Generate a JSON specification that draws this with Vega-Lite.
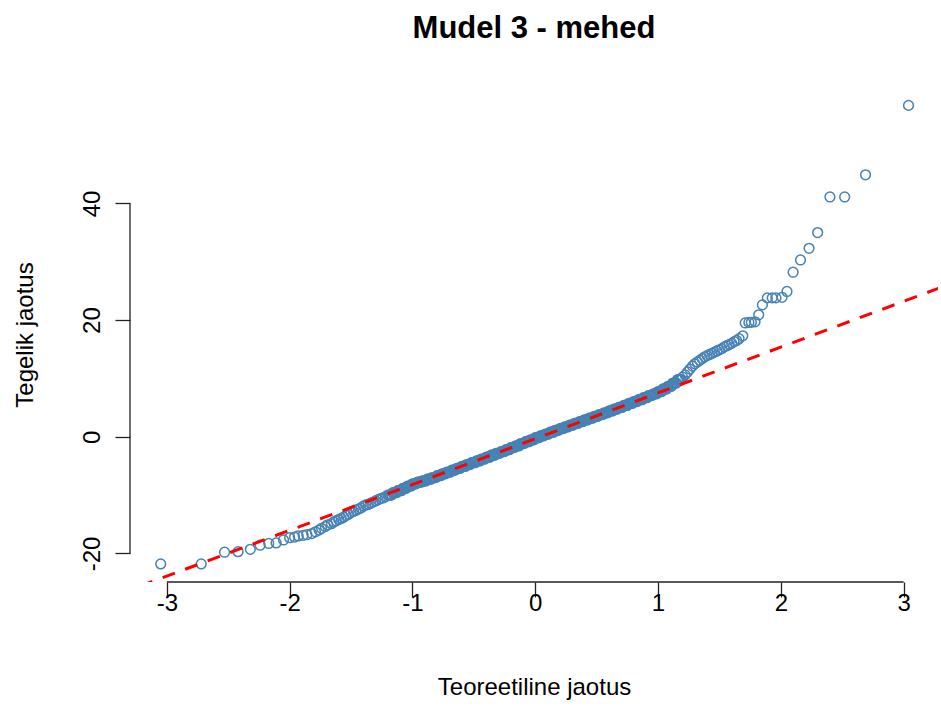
{
"$schema": "https://vega.github.io/schema/vega-lite/v6.json",
"width": 808, "height": 495,
"autosize": {"type": "none"},
"padding": {"left": 130, "top": 87, "right": 3, "bottom": 131},
"background": "white",
"title": {"text": "Mudel 3 - mehed", "font": "Liberation Sans", "fontSize": 31, "fontWeight": "bold", "color": "#000000", "anchor": "middle", "offset": 42},
"config": {"view": {"stroke": null}, "axis": {"grid": false, "domain": false, "tickColor": "#222222", "tickWidth": 1.3, "tickSize": 15, "labelFont": "Liberation Sans", "labelFontSize": 24, "labelColor": "#000000", "titleFont": "Liberation Sans", "titleFontSize": 24, "titleFontWeight": "normal", "titleColor": "#000000"}},
"layer": [
{"data": {"values": [
{"x":-3.05,"y":-21.8},{"x":-2.72,"y":-21.8},{"x":-2.53,"y":-19.8},{"x":-2.42,"y":-19.7},{"x":-2.32,"y":-19.3},{"x":-2.24,"y":-18.6},{"x":-2.17,"y":-18.3},{"x":-2.11,"y":-18.2},{"x":-2.05,"y":-17.7},{"x":-2.0,"y":-17.3},{"x":-1.96,"y":-17.2},{"x":-1.93,"y":-17.0},{"x":-1.89,"y":-16.9},{"x":-1.86,"y":-16.8},{"x":-1.82,"y":-16.6},{"x":-1.79,"y":-16.3},{"x":-1.76,"y":-16.0},{"x":-1.74,"y":-15.7},{"x":-1.71,"y":-15.4},{"x":-1.69,"y":-15.1},{"x":-1.66,"y":-14.9},
{"x":-1.64,"y":-14.6},{"x":-1.62,"y":-14.4},{"x":-1.60,"y":-14.2},{"x":-1.58,"y":-14.0},{"x":-1.56,"y":-13.8},{"x":-1.54,"y":-13.5},{"x":-1.52,"y":-13.3},{"x":-1.50,"y":-13.0},{"x":-1.48,"y":-12.8},{"x":-1.46,"y":-12.6},{"x":-1.44,"y":-12.4},{"x":-1.42,"y":-12.2},{"x":-1.40,"y":-11.9},{"x":-1.38,"y":-11.7},{"x":-1.36,"y":-11.6},{"x":-1.34,"y":-11.4},{"x":-1.32,"y":-11.2},{"x":-1.30,"y":-11.0},{"x":-1.28,"y":-10.8},{"x":-1.26,"y":-10.6},{"x":-1.24,"y":-10.5},{"x":-1.22,"y":-10.3},
{"x":-1.20,"y":-10.0},{"x":-1.19,"y":-10.0},{"x":-1.18,"y":-10.0},{"x":-1.17,"y":-10.0},{"x":-1.16,"y":-9.6},{"x":-1.15,"y":-9.6},{"x":-1.14,"y":-9.6},{"x":-1.13,"y":-9.6},{"x":-1.12,"y":-9.25},{"x":-1.11,"y":-9.25},{"x":-1.10,"y":-9.25},{"x":-1.09,"y":-9.25},{"x":-1.08,"y":-8.85},{"x":-1.07,"y":-8.85},{"x":-1.06,"y":-8.85},{"x":-1.05,"y":-8.85},{"x":-1.04,"y":-8.45},{"x":-1.03,"y":-8.45},{"x":-1.02,"y":-8.45},{"x":-1.01,"y":-8.45},
{"x":-1.00,"y":-8.07},{"x":-0.99,"y":-8.07},{"x":-0.98,"y":-8.07},{"x":-0.97,"y":-8.07},{"x":-0.96,"y":-7.8},{"x":-0.95,"y":-7.8},{"x":-0.94,"y":-7.8},{"x":-0.93,"y":-7.8},{"x":-0.92,"y":-7.57},{"x":-0.91,"y":-7.57},{"x":-0.90,"y":-7.57},{"x":-0.89,"y":-7.57},{"x":-0.88,"y":-7.27},{"x":-0.87,"y":-7.27},{"x":-0.86,"y":-7.27},{"x":-0.85,"y":-7.27},{"x":-0.84,"y":-7.0},{"x":-0.83,"y":-7.0},{"x":-0.82,"y":-7.0},{"x":-0.81,"y":-7.0},
{"x":-0.80,"y":-6.67},{"x":-0.79,"y":-6.67},{"x":-0.78,"y":-6.67},{"x":-0.77,"y":-6.67},{"x":-0.76,"y":-6.35},{"x":-0.75,"y":-6.35},{"x":-0.74,"y":-6.35},{"x":-0.73,"y":-6.35},{"x":-0.72,"y":-6.05},{"x":-0.71,"y":-6.05},{"x":-0.70,"y":-6.05},{"x":-0.69,"y":-6.05},{"x":-0.68,"y":-5.72},{"x":-0.67,"y":-5.72},{"x":-0.66,"y":-5.72},{"x":-0.65,"y":-5.72},{"x":-0.64,"y":-5.42},{"x":-0.63,"y":-5.42},{"x":-0.62,"y":-5.42},{"x":-0.61,"y":-5.42},
{"x":-0.60,"y":-5.1},{"x":-0.59,"y":-5.1},{"x":-0.58,"y":-5.1},{"x":-0.57,"y":-5.1},{"x":-0.56,"y":-4.77},{"x":-0.55,"y":-4.77},{"x":-0.54,"y":-4.77},{"x":-0.53,"y":-4.77},{"x":-0.52,"y":-4.45},{"x":-0.51,"y":-4.45},{"x":-0.50,"y":-4.45},{"x":-0.49,"y":-4.45},{"x":-0.48,"y":-4.15},{"x":-0.47,"y":-4.15},{"x":-0.46,"y":-4.15},{"x":-0.45,"y":-4.15},{"x":-0.44,"y":-3.82},{"x":-0.43,"y":-3.82},{"x":-0.42,"y":-3.82},{"x":-0.41,"y":-3.82},
{"x":-0.40,"y":-3.5},{"x":-0.39,"y":-3.5},{"x":-0.38,"y":-3.5},{"x":-0.37,"y":-3.5},{"x":-0.36,"y":-3.17},{"x":-0.35,"y":-3.17},{"x":-0.34,"y":-3.17},{"x":-0.33,"y":-3.17},{"x":-0.32,"y":-2.85},{"x":-0.31,"y":-2.85},{"x":-0.30,"y":-2.85},{"x":-0.29,"y":-2.85},{"x":-0.28,"y":-2.55},{"x":-0.27,"y":-2.55},{"x":-0.26,"y":-2.55},{"x":-0.25,"y":-2.55},{"x":-0.24,"y":-2.22},{"x":-0.23,"y":-2.22},{"x":-0.22,"y":-2.22},{"x":-0.21,"y":-2.22},
{"x":-0.20,"y":-1.87},{"x":-0.19,"y":-1.87},{"x":-0.18,"y":-1.87},{"x":-0.17,"y":-1.87},{"x":-0.16,"y":-1.55},{"x":-0.15,"y":-1.55},{"x":-0.14,"y":-1.55},{"x":-0.13,"y":-1.55},{"x":-0.12,"y":-1.17},{"x":-0.11,"y":-1.17},{"x":-0.10,"y":-1.17},{"x":-0.09,"y":-1.17},{"x":-0.08,"y":-0.85},{"x":-0.07,"y":-0.85},{"x":-0.06,"y":-0.85},{"x":-0.05,"y":-0.85},{"x":-0.04,"y":-0.52},{"x":-0.03,"y":-0.52},{"x":-0.02,"y":-0.52},{"x":-0.01,"y":-0.52},
{"x":0.00,"y":-0.17},{"x":0.01,"y":-0.17},{"x":0.02,"y":-0.17},{"x":0.03,"y":-0.17},{"x":0.04,"y":0.15},{"x":0.05,"y":0.15},{"x":0.06,"y":0.15},{"x":0.07,"y":0.15},{"x":0.08,"y":0.45},{"x":0.09,"y":0.45},{"x":0.10,"y":0.45},{"x":0.11,"y":0.45},{"x":0.12,"y":0.77},{"x":0.13,"y":0.77},{"x":0.14,"y":0.77},{"x":0.15,"y":0.77},{"x":0.16,"y":1.1},{"x":0.17,"y":1.1},{"x":0.18,"y":1.1},{"x":0.19,"y":1.1},
{"x":0.20,"y":1.4},{"x":0.21,"y":1.4},{"x":0.22,"y":1.4},{"x":0.23,"y":1.4},{"x":0.24,"y":1.7},{"x":0.25,"y":1.7},{"x":0.26,"y":1.7},{"x":0.27,"y":1.7},{"x":0.28,"y":2.0},{"x":0.29,"y":2.0},{"x":0.30,"y":2.0},{"x":0.31,"y":2.0},{"x":0.32,"y":2.3},{"x":0.33,"y":2.3},{"x":0.34,"y":2.3},{"x":0.35,"y":2.3},{"x":0.36,"y":2.6},{"x":0.37,"y":2.6},{"x":0.38,"y":2.6},{"x":0.39,"y":2.6},
{"x":0.40,"y":2.9},{"x":0.41,"y":2.9},{"x":0.42,"y":2.9},{"x":0.43,"y":2.9},{"x":0.44,"y":3.2},{"x":0.45,"y":3.2},{"x":0.46,"y":3.2},{"x":0.47,"y":3.2},{"x":0.48,"y":3.5},{"x":0.49,"y":3.5},{"x":0.50,"y":3.5},{"x":0.51,"y":3.5},{"x":0.52,"y":3.8},{"x":0.53,"y":3.8},{"x":0.54,"y":3.8},{"x":0.55,"y":3.8},{"x":0.56,"y":4.1},{"x":0.57,"y":4.1},{"x":0.58,"y":4.1},{"x":0.59,"y":4.1},
{"x":0.60,"y":4.42},{"x":0.61,"y":4.42},{"x":0.62,"y":4.42},{"x":0.63,"y":4.42},{"x":0.64,"y":4.75},{"x":0.65,"y":4.75},{"x":0.66,"y":4.75},{"x":0.67,"y":4.75},{"x":0.68,"y":5.05},{"x":0.69,"y":5.05},{"x":0.70,"y":5.05},{"x":0.71,"y":5.05},{"x":0.72,"y":5.37},{"x":0.73,"y":5.37},{"x":0.74,"y":5.37},{"x":0.75,"y":5.37},{"x":0.76,"y":5.7},{"x":0.77,"y":5.7},{"x":0.78,"y":5.7},{"x":0.79,"y":5.7},
{"x":0.80,"y":6.02},{"x":0.81,"y":6.02},{"x":0.82,"y":6.02},{"x":0.83,"y":6.02},{"x":0.84,"y":6.35},{"x":0.85,"y":6.35},{"x":0.86,"y":6.35},{"x":0.87,"y":6.35},{"x":0.88,"y":6.7},{"x":0.89,"y":6.7},{"x":0.90,"y":6.7},{"x":0.91,"y":6.7},{"x":0.92,"y":7.05},{"x":0.93,"y":7.05},{"x":0.94,"y":7.05},{"x":0.95,"y":7.05},{"x":0.96,"y":7.35},{"x":0.97,"y":7.35},{"x":0.98,"y":7.35},{"x":0.99,"y":7.35},
{"x":1.00,"y":7.75},{"x":1.01,"y":7.75},{"x":1.02,"y":7.75},{"x":1.03,"y":7.75},{"x":1.04,"y":8.2},{"x":1.05,"y":8.2},{"x":1.06,"y":8.2},{"x":1.07,"y":8.2},{"x":1.08,"y":8.65},{"x":1.09,"y":8.65},{"x":1.10,"y":8.65},{"x":1.11,"y":8.65},{"x":1.12,"y":9.2},{"x":1.13,"y":9.2},{"x":1.14,"y":9.2},{"x":1.15,"y":9.2},{"x":1.16,"y":9.8},{"x":1.17,"y":9.8},{"x":1.18,"y":9.8},{"x":1.19,"y":9.8},{"x":1.20,"y":10.2},
{"x":1.22,"y":10.6},{"x":1.24,"y":11.1},{"x":1.26,"y":11.6},{"x":1.28,"y":12.1},{"x":1.30,"y":12.5},{"x":1.32,"y":12.8},{"x":1.34,"y":13.1},{"x":1.36,"y":13.4},{"x":1.38,"y":13.7},{"x":1.40,"y":13.9},{"x":1.42,"y":14.1},{"x":1.44,"y":14.3},{"x":1.46,"y":14.5},{"x":1.48,"y":14.7},{"x":1.50,"y":14.9},{"x":1.52,"y":15.1},{"x":1.54,"y":15.4},{"x":1.56,"y":15.6},{"x":1.58,"y":15.8},{"x":1.60,"y":16.0},{"x":1.62,"y":16.3},
{"x":1.64,"y":16.5},{"x":1.66,"y":16.8},{"x":1.69,"y":17.3},{"x":1.71,"y":19.5},{"x":1.74,"y":19.6},{"x":1.76,"y":19.6},{"x":1.79,"y":19.7},{"x":1.82,"y":20.9},{"x":1.85,"y":22.6},{"x":1.89,"y":23.8},{"x":1.93,"y":23.8},{"x":1.96,"y":23.8},{"x":2.01,"y":23.9},{"x":2.05,"y":24.9},{"x":2.10,"y":28.2},{"x":2.16,"y":30.3},{"x":2.23,"y":32.3},{"x":2.30,"y":35.0},{"x":2.40,"y":41.1},{"x":2.52,"y":41.1},{"x":2.69,"y":44.9},{"x":3.04,"y":56.8}
]},
"mark": {"type": "point", "shape": "circle", "filled": false, "size": 95, "strokeWidth": 1.5, "color": "#4682B4", "opacity": 1},
"encoding": {
"x": {"field": "x", "type": "quantitative", "title": "Teoreetiline jaotus", "scale": {"domain": [-3.30, 3.28], "nice": false, "zero": false}, "axis": {"values": [-3, -2, -1, 0, 1, 2, 3], "labelExpr": "datum.value + ''", "labelPadding": -6, "labelBaseline": "top", "titleY": 105, "titleBaseline": "middle"}},
"y": {"field": "y", "type": "quantitative", "title": "Tegelik jaotus", "scale": {"domain": [-24.9, 59.95], "nice": false, "zero": false}, "axis": {"values": [-20, 0, 20, 40], "labelExpr": "datum.value + ''", "labelAngle": -90, "labelAlign": "center", "labelBaseline": "bottom", "labelPadding": 11, "titleX": -105, "titleBaseline": "middle"}}
}},
{"data": {"values": [{"x": -3.4, "y": -27.03}, {"x": 3.4, "y": 26.35}]},
"mark": {"type": "line", "color": "#FF0000", "strokeWidth": 3, "strokeDash": [13, 11], "clip": true},
"encoding": {"x": {"field": "x", "type": "quantitative", "title": "Teoreetiline jaotus"}, "y": {"field": "y", "type": "quantitative", "title": "Tegelik jaotus"}}},
{"data": {"values": [{"x": -3, "xe": 3, "y": -24.9}]},
"mark": {"type": "rule", "color": "#222222", "strokeWidth": 1.3},
"encoding": {"x": {"field": "x", "type": "quantitative", "title": "Teoreetiline jaotus"}, "x2": {"field": "xe"}, "y": {"field": "y", "type": "quantitative", "title": "Tegelik jaotus"}}},
{"data": {"values": [{"x": -3.30, "y": -20, "ye": 40}]},
"mark": {"type": "rule", "color": "#222222", "strokeWidth": 1.3},
"encoding": {"x": {"field": "x", "type": "quantitative", "title": "Teoreetiline jaotus"}, "y": {"field": "y", "type": "quantitative", "title": "Tegelik jaotus"}, "y2": {"field": "ye"}}}
]
}
